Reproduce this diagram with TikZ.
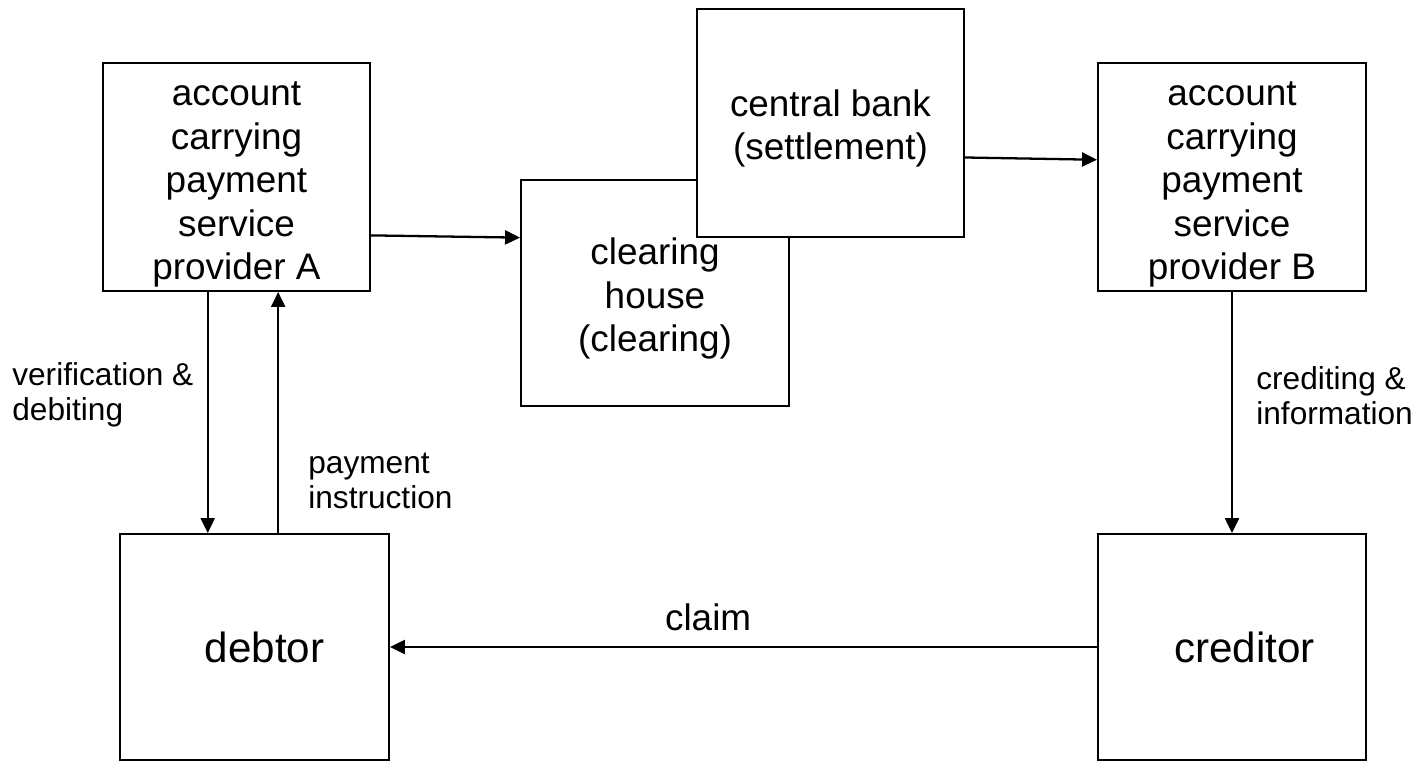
\documentclass[tikz,border=0pt]{standalone}
\usepackage{fontspec}
\setmainfont{Liberation Sans}
\usetikzlibrary{arrows.meta, positioning, calc}
\newcommand{\boxfont}{\fontsize{21}{24.8}\selectfont}
\newcommand{\bigfont}{\fontsize{24}{28}\selectfont}
\newcommand{\labfont}{\fontsize{18}{20}\selectfont}
\tikzset{
  blockbox/.style={draw=black, line width=1.1pt, fill=white, align=center, inner sep=0pt, font=\boxfont},
  partybox/.style={draw=black, line width=1.1pt, fill=white, align=center, inner sep=2pt, font=\bigfont},
  steplabel/.style={anchor=west, align=left, inner sep=0pt, font=\labfont},
  arrow/.style={-{Triangle[length=3mm, width=2.8mm]}, line width=1.3pt, draw=black}
}

\begin{document}
\begin{tikzpicture}[x=0.02cm, y=-0.02cm]
\useasboundingbox (0,0) rectangle (1421,762);
% institutions
\node[blockbox, minimum width=5.34cm, minimum height=4.56cm] (psA) at (236.5,177) {\rule{0pt}{0.78cm}account\\carrying\\payment\\service\\provider A};
\node[blockbox, minimum width=5.36cm, minimum height=4.52cm] (clr) at (655,293) {\rule{0pt}{0.76cm}clearing\\house\\(clearing)};
\node[blockbox, minimum width=5.34cm, minimum height=4.56cm] (cb) at (830.5,123) {\rule{0pt}{0.75cm}central bank\\(settlement)};
\node[blockbox, minimum width=5.36cm, minimum height=4.56cm] (psB) at (1232,177) {\rule{0pt}{0.78cm}account\\carrying\\payment\\service\\provider B};
% parties
\node[partybox, minimum width=5.38cm, minimum height=4.52cm] (deb) at (254.5,647) {\hspace{0.4cm}debtor};
\node[partybox, minimum width=5.36cm, minimum height=4.52cm] (cred) at (1232,647) {\hspace{0.5cm}creditor};

% interbank flow
\draw[arrow] ($(psA.north east)!0.754!(psA.south east)$) -- ($(clr.north west)!0.257!(clr.south west)$);
\draw[arrow] ($(cb.north east)!0.65!(cb.south east)$) -- ($(psB.north west)!0.425!(psB.south west)$);

% debtor side
\coordinate (down) at ($(psA.south west)!0.393!(psA.south east)$);
\coordinate (up) at ($(psA.south west)!0.655!(psA.south east)$);
\draw[arrow] (down) -- (down |- deb.north);
\draw[arrow] (up |- deb.north) -- (up);
\node[steplabel] (verif) at (12,395) {verification \&\\debiting};
\node[steplabel] (instr) at (308,481) {payment\\instruction};

% creditor side
\draw[arrow] (psB.south) -- (psB.south |- cred.north);
\node[steplabel] (cred lab) at (1256,396) {crediting \&\\information};

% claim
\draw[arrow] (cred.west) -- (deb.west -| deb.east) node[pos=0.55, above=5pt, font=\fontsize{21}{25}\selectfont] (claim) {claim};
\end{tikzpicture}
\end{document}
